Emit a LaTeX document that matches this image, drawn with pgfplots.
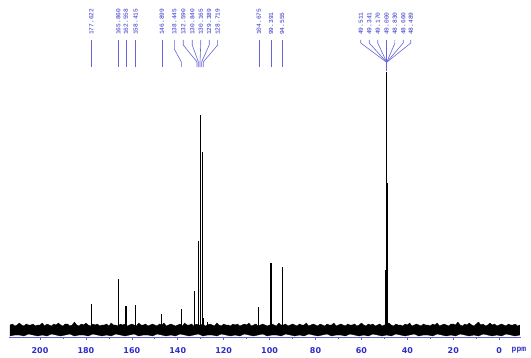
\documentclass[border=0pt]{standalone}
\usepackage{pgfplots}
\pgfplotsset{compat=1.18}
\usepackage{pgfplotstable}
\usepackage{fontspec}
\setmainfont{DejaVu Sans}
\newfontfamily\monofont{Liberation Mono}
\definecolor{nmrblue}{RGB}{45,45,200}
\definecolor{lineblue}{RGB}{100,100,215}

% noise band outline: top edge (step 1 ppm) then bottom edge back (step 2 ppm)
\pgfplotstableread{
x y
213 5
212 6
211 4
210 5
209 7
208 5
207 4
206 6
205 5
204 5
203 6
202 4
201 5
200 5
199 7
198 4
197 6
196 5
195 4
194 6
193 5
192 7
191 5
190 4
189 6
188 6
187 4
186 5
185 8
184 5
183 4
182 6
181 5
180 7
179 5
178 4
177 6
176 5
175 6
174 4
173 5
172 5
171 6
170 4
169 7
168 5
167 5
166 4
165 6
164 5
163 6
162 4
161 5
160 6
159 5
158 4
157 7
156 5
155 5
154 6
153 4
152 5
151 6
150 5
149 4
148 6
147 5
146 7
145 4
144 5
143 6
142 5
141 4
140 5
139 6
138 4
137 7
136 5
135 5
134 6
133 4
132 6
131 5
130 5
129 6
128 4
127 5
126 6
125 5
124 4
123 7
122 5
121 4
120 6
119 5
118 5
117 4
116 6
115 5
114 6
113 4
112 5
111 6
110 5
109 7
108 4
107 5
106 6
105 4
104 5
103 6
102 5
101 4
100 5
99 6
98 5
97 4
96 7
95 5
94 5
93 6
92 4
91 5
90 6
89 5
88 4
87 6
86 5
85 5
84 7
83 4
82 5
81 6
80 5
79 4
78 6
77 5
76 4
75 6
74 5
73 5
72 7
71 4
70 5
69 6
68 5
67 4
66 6
65 5
64 5
63 6
62 4
61 5
60 7
59 5
58 4
57 6
56 5
55 6
54 4
53 5
52 6
51 4
50 5
49 6
48 7
47 5
46 4
45 6
44 5
43 5
42 4
41 6
40 5
39 7
38 4
37 5
36 6
35 5
34 4
33 6
32 5
31 5
30 4
29 6
28 5
27 7
26 4
25 5
24 6
23 5
22 4
21 6
20 6
19 5
18 8
17 5
16 4
15 6
14 5
13 7
12 5
11 4
10 6
9 8
8 5
7 6
6 4
5 5
4 7
3 5
2 6
1 4
0 5
-1 6
-2 5
-3 4
-4 6
-5 5
-6 5
-7 6
-8 4
-9 5
-9 -5
-7 -6
-5 -5
-3 -4
-1 -6
1 -5
3 -6
5 -5
7 -4
9 -6
11 -5
13 -6
15 -5
17 -4
19 -6
21 -5
23 -6
25 -5
27 -4
29 -6
31 -5
33 -5
35 -6
37 -4
39 -5
41 -6
43 -5
45 -4
47 -6
49 -5
51 -6
53 -5
55 -4
57 -6
59 -5
61 -6
63 -5
65 -4
67 -6
69 -5
71 -5
73 -6
75 -4
77 -5
79 -6
81 -5
83 -4
85 -6
87 -5
89 -6
91 -5
93 -4
95 -6
97 -5
99 -5
101 -6
103 -4
105 -5
107 -6
109 -5
111 -4
113 -6
115 -5
117 -6
119 -5
121 -4
123 -6
125 -5
127 -5
129 -6
131 -4
133 -5
135 -6
137 -5
139 -4
141 -6
143 -5
145 -6
147 -5
149 -4
151 -6
153 -5
155 -5
157 -6
159 -4
161 -5
163 -6
165 -5
167 -4
169 -6
171 -5
173 -6
175 -5
177 -4
179 -6
181 -5
183 -5
185 -6
187 -4
189 -5
191 -6
193 -5
195 -4
197 -6
199 -5
201 -6
203 -5
205 -4
207 -6
209 -5
211 -5
213 -6
}\noise

\pgfplotstableread{
x y
177.622 26
165.860 51
162.558 24
158.415 25
146.899 16
138.445 21
132.590 39
130.840 89
130.165 215
129.389 178
128.719 12
127.2 8
104.675 23
99.391 67
94.555 63
49.511 12
49.341 60
49.170 147
49.000 258
48.830 147
48.660 60
48.489 12
}\peaks

\begin{document}
\begin{tikzpicture}[
  lab/.style={rotate=90, anchor=west, inner sep=0pt, text=nmrblue,
    font=\monofont\fontsize{6.2}{6.2}\selectfont},
  con/.style={lineblue, line width=0.6pt}]
\begin{axis}[at={(9pt,20pt)}, anchor=south west, scale only axis,
  width=512pt, height=337pt,
  xmin=-9.5, xmax=213.5, x dir=reverse, ymin=-7, ymax=330,
  axis x line*=bottom, hide y axis, xtick pos=bottom,
  x axis line style={lineblue, line width=0.6pt},
  xtick={0,20,...,200}, minor x tick num=1,
  tick align=outside, major tick length=3pt, minor tick length=2pt,
  every tick/.style={lineblue, line width=0.6pt},
  xticklabel style={font=\bfseries\fontsize{8}{9}\selectfont, text=nmrblue, yshift=-4pt},
  /pgf/number format/assume math mode=true,
  clip=false]

\addplot[fill=black, draw=black, line width=0.3pt] table[x=x,y=y]{\noise} -- cycle;

\addplot[ycomb, black, line width=1.1pt] table[x=x,y=y]{\peaks};

% single labels
\draw[con] (axis cs:177.622,263) -- (axis cs:177.622,290);
\node[lab] at (axis cs:177.622,295) {177.622};
\draw[con] (axis cs:165.860,263) -- (axis cs:165.860,290);
\node[lab] at (axis cs:165.860,295) {165.860};
\draw[con] (axis cs:162.558,263) -- (axis cs:162.558,290);
\node[lab] at (axis cs:162.558,295) {162.558};
\draw[con] (axis cs:158.415,263) -- (axis cs:158.415,290);
\node[lab] at (axis cs:158.415,295) {158.415};
\draw[con] (axis cs:146.899,263) -- (axis cs:146.899,290);
\node[lab] at (axis cs:146.899,295) {146.899};
\draw[con] (axis cs:104.675,263) -- (axis cs:104.675,290);
\node[lab] at (axis cs:104.675,295) {104.675};
\draw[con] (axis cs:99.391,263) -- (axis cs:99.391,290);
\node[lab] at (axis cs:99.391,295) {99.391};
\draw[con] (axis cs:94.555,263) -- (axis cs:94.555,290);
\node[lab] at (axis cs:94.555,295) {94.555};

% group 1
\draw[con] (axis cs:141.5,290) -- (axis cs:141.5,281) -- (axis cs:138.445,268) -- (axis cs:138.445,263);
\node[lab] at (axis cs:141.5,295) {138.445};
\draw[con] (axis cs:137.6,290) -- (axis cs:137.6,285) -- (axis cs:131.6,268) -- (axis cs:131.6,263);
\node[lab] at (axis cs:137.6,295) {132.590};
\draw[con] (axis cs:133.7,290) -- (axis cs:133.7,285) -- (axis cs:131.0,268) -- (axis cs:131.0,263);
\node[lab] at (axis cs:133.7,295) {130.840};
\draw[con] (axis cs:130.0,290) -- (axis cs:130.0,285) -- (axis cs:130.3,268) -- (axis cs:130.3,263);
\node[lab] at (axis cs:130.0,295) {130.165};
\draw[con] (axis cs:126.3,290) -- (axis cs:126.3,285) -- (axis cs:129.6,268) -- (axis cs:129.6,263);
\node[lab] at (axis cs:126.3,295) {129.389};
\draw[con] (axis cs:122.6,290) -- (axis cs:122.6,285) -- (axis cs:128.9,268) -- (axis cs:128.9,263);
\node[lab] at (axis cs:122.6,295) {128.719};

% group 2
\draw[con] (axis cs:60.3,290) -- (axis cs:60.3,287) -- (axis cs:49.2,268);
\node[lab] at (axis cs:60.3,295) {49.511};
\draw[con] (axis cs:56.6,290) -- (axis cs:56.6,287) -- (axis cs:49.1,268);
\node[lab] at (axis cs:56.6,295) {49.341};
\draw[con] (axis cs:52.9,290) -- (axis cs:52.9,287) -- (axis cs:49.05,268);
\node[lab] at (axis cs:52.9,295) {49.170};
\draw[con] (axis cs:49.0,290) -- (axis cs:49.0,287) -- (axis cs:49.0,268);
\node[lab] at (axis cs:49.0,295) {49.000};
\draw[con] (axis cs:45.4,290) -- (axis cs:45.4,287) -- (axis cs:48.95,268);
\node[lab] at (axis cs:45.4,295) {48.830};
\draw[con] (axis cs:41.8,290) -- (axis cs:41.8,287) -- (axis cs:48.9,268);
\node[lab] at (axis cs:41.8,295) {48.660};
\draw[con] (axis cs:38.5,290) -- (axis cs:38.5,287) -- (axis cs:48.8,268);
\node[lab] at (axis cs:38.5,295) {48.489};
\draw[lineblue, line width=1.6pt] (axis cs:49.0,269) -- (axis cs:49.0,259);

\node[font=\monofont\bfseries\fontsize{8}{9}\selectfont, text=nmrblue] at (axis cs:-8.6,-20) {ppm};
\end{axis}
\path (0pt,0pt) rectangle (531pt,357pt);
\end{tikzpicture}
\end{document}
